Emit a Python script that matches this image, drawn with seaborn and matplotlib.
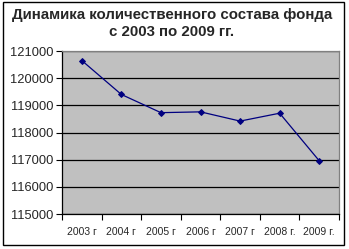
import matplotlib
matplotlib.use("Agg")
import matplotlib.pyplot as plt
import seaborn as sns
import pandas as pd
import numpy as np
from matplotlib.patches import Rectangle

years = ["2003 г", "2004 г", "2005 г", "2006 г", "2007 г", "2008 г.", "2009 г."]
values = [120650, 119400, 118730, 118760, 118420, 118710, 116960]
y_ticks = [115000, 116000, 117000, 118000, 119000, 120000, 121000]
title = "Динамика количественного состава фонда\nс 2003 по 2009 гг."

sns.set_theme(style="white")
plt.rcParams['font.family'] = ['Liberation Sans', 'DejaVu Sans']

W, H = 349, 249
fig = plt.figure(figsize=(W / 100, H / 100), dpi=100)
fig.patch.set_facecolor("white")

# outer border
fig.add_artist(Rectangle((3 / W, 1 - 245 / H), (344 - 3) / W, (245 - 2) / H,
                         transform=fig.transFigure, fill=False,
                         edgecolor="black", linewidth=1.0))

left, top, right, bottom = 62, 51, 339, 214
ax = fig.add_axes([left / W, 1 - bottom / H, (right - left) / W, (bottom - top) / H])
ax.set_facecolor("#C0C0C0")

df = pd.DataFrame({"year": years, "value": values})
df["pos"] = np.arange(len(years))
sns.lineplot(data=df, x="pos", y="value", ax=ax, color="#000080",
             linewidth=0.9, marker="D", markersize=3,
             markeredgecolor="#000080", markerfacecolor="#000080")

ax.set_xlim(-0.5, len(years) - 0.5)
ax.set_ylim(y_ticks[0], y_ticks[-1])
ax.set_yticks(y_ticks)
ax.set_yticklabels([str(v) for v in y_ticks], fontsize=9.3)
ax.grid(axis="y", color="black", linewidth=0.9)
ax.set_axisbelow(True)

ax.set_xticks(np.arange(len(years) + 1) - 0.5)
ax.set_xticklabels([])
ax.set_xticks(np.arange(len(years)), minor=True)
ax.set_xticklabels(years, minor=True, fontsize=7.5)
ax.tick_params(axis="x", which="major", direction="out", length=4, width=0.8, color="black", bottom=True)
ax.tick_params(axis="x", which="minor", length=0, pad=9)
ax.tick_params(axis="y", direction="out", length=4, width=0.8, color="black", left=True, pad=2)

ax.set_xlabel("")
ax.set_ylabel("")
for s in ["left", "bottom"]:
    ax.spines[s].set_color("black")
    ax.spines[s].set_linewidth(0.9)
for s in ["top", "right"]:
    ax.spines[s].set_visible(True)
    ax.spines[s].set_color("#808080")
    ax.spines[s].set_linewidth(0.9)

fig.text(172 / W, 1 - 23.5 / H, title, ha="center", va="center",
         fontsize=10.8, fontweight="bold", linespacing=1.35)

fig.savefig("out.png", dpi=100, facecolor="white")
